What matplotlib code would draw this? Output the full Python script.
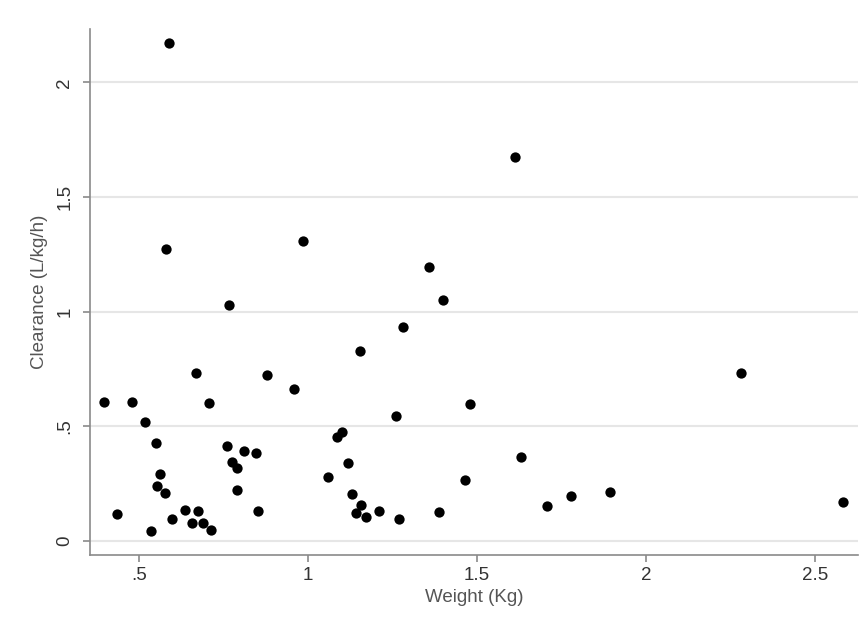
import matplotlib.pyplot as plt

plt.rcParams['font.family'] = ['Liberation Sans', 'DejaVu Sans']

weight = [0.397, 0.478, 0.518, 0.549, 0.561, 0.552, 0.578, 0.436, 0.536, 0.598,
          0.637, 0.675, 0.658, 0.690, 0.712, 0.668, 0.708, 0.759, 0.774, 0.791,
          0.812, 0.846, 0.789, 0.851, 0.878, 0.960, 1.058, 1.087, 1.100, 1.118,
          1.130, 1.156, 1.142, 1.171, 1.210, 1.268, 1.259, 1.154, 1.280, 1.388,
          1.479, 1.629, 1.464, 1.708, 1.779, 1.893, 2.280, 2.582, 0.589, 0.579,
          0.986, 1.358, 1.400, 0.765, 1.611]
clearance = [0.604, 0.606, 0.520, 0.426, 0.292, 0.240, 0.209, 0.116, 0.045, 0.097,
             0.134, 0.131, 0.076, 0.076, 0.048, 0.731, 0.600, 0.414, 0.344, 0.317,
             0.394, 0.385, 0.222, 0.132, 0.722, 0.661, 0.279, 0.455, 0.474, 0.339,
             0.203, 0.157, 0.121, 0.106, 0.131, 0.096, 0.543, 0.828, 0.931, 0.125,
             0.597, 0.365, 0.266, 0.150, 0.196, 0.215, 0.733, 0.171, 2.173, 1.271,
             1.306, 1.193, 1.050, 1.030, 1.675]

x_ticks = [0.5, 1, 1.5, 2, 2.5]
x_labels = ['.5', '1', '1.5', '2', '2.5']
y_ticks = [0, 0.5, 1, 1.5, 2]
y_labels = ['0', '.5', '1', '1.5', '2']

fig = plt.figure(figsize=(8.65, 6.37), dpi=100)
ax = fig.add_axes([0.104, 0.129, 0.888, 0.825])

ax.scatter(weight, clearance, s=55, color='black', zorder=3, linewidths=0)

ax.set_xlim(0.355, 2.627)
ax.set_ylim(-0.061, 2.231)
ax.set_xticks(x_ticks)
ax.set_xticklabels(x_labels)
ax.set_yticks(y_ticks)
ax.set_yticklabels(y_labels, rotation=90, va='center')

ax.grid(axis='y', color='#e6e6e6', linewidth=1.5, zorder=0)
for s in ['top', 'right']:
    ax.spines[s].set_visible(False)
for s in ['left', 'bottom']:
    ax.spines[s].set_color('#8a8a8a')
    ax.spines[s].set_linewidth(1.2)
ax.tick_params(colors='#8a8a8a', length=5, width=1.2, labelsize=13.5, labelcolor='#333333')
ax.tick_params(axis='y', pad=7)

ax.set_xlabel('Weight (Kg)', fontsize=13.5, color='#555555', labelpad=4)
ax.set_ylabel('Clearance (L/kg/h)', fontsize=13.5, color='#555555', labelpad=6)

fig.savefig('out.png', dpi=100)
